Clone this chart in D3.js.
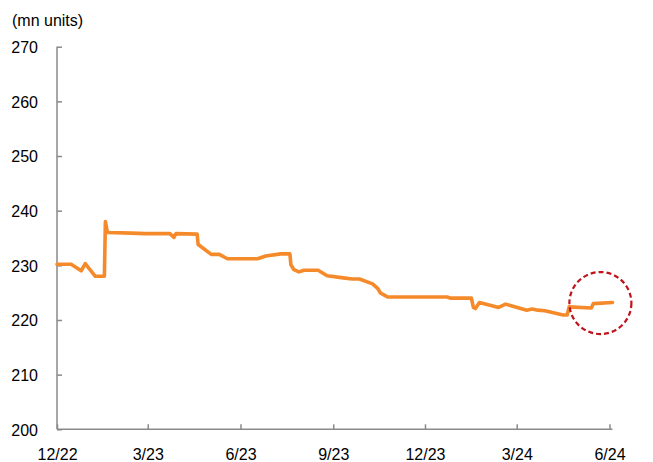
<!DOCTYPE html>
<html>
<head>
<meta charset="utf-8">
<script src="https://cdn.jsdelivr.net/npm/d3@7"></script>
<style>
  html, body { margin: 0; padding: 0; background: #fff; }
  svg text { font-family: Arial, "Liberation Sans", sans-serif; fill: #000; }
</style>
</head>
<body>
<svg id="chart" width="653" height="462"></svg>
<script>
// Observation dates (where the series changes slope) and installed base, mn units
const dates = [
  "2022-12-01", "2022-12-15", "2022-12-25", "2022-12-29", "2023-01-08",
  "2023-01-17", "2023-01-18", "2023-01-20", "2023-02-13", "2023-02-26",
  "2023-03-23", "2023-03-27", "2023-03-29", "2023-04-19", "2023-04-20",
  "2023-04-23", "2023-05-03", "2023-05-11", "2023-05-19", "2023-06-18",
  "2023-06-26", "2023-07-11", "2023-07-20", "2023-07-21", "2023-07-24",
  "2023-07-29", "2023-08-03", "2023-08-17", "2023-08-26", "2023-09-11",
  "2023-09-20", "2023-09-27", "2023-10-10", "2023-10-15", "2023-10-18",
  "2023-10-23", "2023-10-25", "2023-12-23", "2023-12-26", "2024-01-16",
  "2024-01-18", "2024-01-20", "2024-01-24", "2024-02-12", "2024-02-19",
  "2024-03-11", "2024-03-16", "2024-03-22", "2024-03-29", "2024-04-16",
  "2024-04-20", "2024-04-22", "2024-05-14", "2024-05-16", "2024-06-04"
];
const units = [
  230.2, 230.2, 229.0, 230.3, 228.0,
  228.0, 238.0, 236.0, 235.9, 235.8,
  235.8, 235.1, 235.8, 235.7, 233.8,
  233.4, 232.0, 232.0, 231.2, 231.2,
  231.7, 232.1, 232.1, 230.1, 229.2,
  228.8, 229.1, 229.1, 228.1, 227.7,
  227.5, 227.5, 226.6, 225.8, 224.9,
  224.4, 224.2, 224.2, 224.0, 224.0,
  222.3, 222.1, 223.2, 222.3, 222.9,
  221.8, 222.0, 221.8, 221.7, 220.9,
  220.9, 222.4, 222.2, 223.0, 223.2
];
const yTicks = [200, 210, 220, 230, 240, 250, 260, 270];
const xTickDates = ["2022-12-01", "2023-03-01", "2023-06-01", "2023-09-01",
                    "2023-12-01", "2024-03-01", "2024-06-01"];
const yUnitLabel = "(mn units)";
// centre of the dashed ring that marks the latest readings
const highlightDate = "2024-05-23";
const highlightValue = 223.1;

const parse = d3.timeParse("%Y-%m-%d");
const series = dates.map((d, i) => ({ date: parse(d), value: units[i] }));

const svg = d3.select("#chart");
const axisColor = "#8a8a8a";

const x = d3.scaleTime()
  .domain([parse("2022-12-01"), parse("2024-06-04")])
  .range([57, 612.5]);
const y = d3.scaleLinear()
  .domain([200, 270])
  .range([429.3, 46.7]);

// y axis, ticks pointing into the plot
const yAxis = svg.append("g")
  .attr("transform", "translate(57,0)")
  .call(d3.axisLeft(y).tickValues(yTicks).tickSize(-5).tickPadding(19)
    .tickFormat(d3.format("d")));
yAxis.selectAll("path, line").attr("stroke", axisColor).attr("stroke-width", 1.5);
yAxis.select(".domain").attr("d", `M0,${y(270)}V${y(200)}`);
yAxis.selectAll("text").style("font-size", "16px").attr("dy", "0.36em");

// x axis, quarterly ticks
const xAxis = svg.append("g")
  .attr("transform", `translate(0,${y(200)})`)
  .call(d3.axisBottom(x).tickValues(xTickDates.map(parse)).tickSize(-5).tickPadding(19.5)
    .tickFormat(d3.timeFormat("%-m/%y")));
xAxis.selectAll("path, line").attr("stroke", axisColor).attr("stroke-width", 1.5);
xAxis.select(".domain").attr("d", `M${x.range()[0]},0H${x.range()[1]}`);
xAxis.selectAll("text").style("font-size", "16px");

// unit label
svg.append("text")
  .attr("x", 12).attr("y", 26)
  .style("font-size", "16px")
  .text(yUnitLabel);

// series line
const line = d3.line()
  .x(d => x(d.date))
  .y(d => y(d.value));
svg.append("path")
  .datum(series)
  .attr("fill", "none")
  .attr("stroke", "#f58a2b")
  .attr("stroke-width", 3.6)
  .attr("stroke-linejoin", "round")
  .attr("stroke-linecap", "round")
  .attr("d", line);

// dashed ring around the latest readings
svg.append("circle")
  .attr("cx", x(parse(highlightDate)))
  .attr("cy", y(highlightValue))
  .attr("r", 31)
  .attr("fill", "none")
  .attr("stroke", "#c0141c")
  .attr("stroke-width", 2.2)
  .attr("stroke-dasharray", "5,3");
</script>
</body>
</html>
